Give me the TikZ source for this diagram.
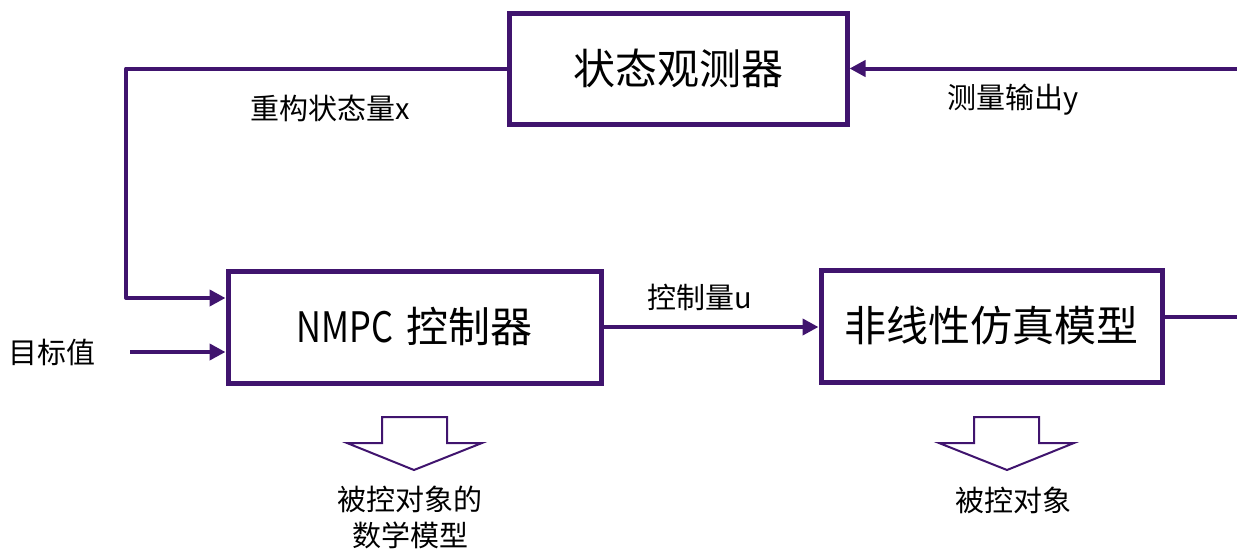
\documentclass[tikz,border=0pt]{standalone}
\usepackage{graphicx}
\usepackage{fontspec}
\newfontfamily\cjk{Noto Sans CJK SC}
\usetikzlibrary{arrows.meta}
\definecolor{pur}{RGB}{64,20,110}
\tikzset{
  blk/.style={draw=pur, line width=5pt, fill=white, inner sep=0pt, font=\cjk\fontsize{42}{50}\selectfont},
  conn/.style={draw=pur, line width=4pt, line join=round},
  arr/.style={conn, -{Triangle[length=16pt,width=16pt]}},
  lbl/.style={inner sep=0pt, font=\cjk\fontsize{29}{36}\selectfont},
  hollow/.style={draw=pur, line width=2pt, line join=miter, fill=white}
}
\begin{document}
\begin{tikzpicture}[x=1pt,y=-1pt]
\useasboundingbox (0,0) rectangle (1237,549);
\node[blk, minimum width=338pt, minimum height=111pt] (obs) at (678,68.5) {状态观测器};
\node[blk, minimum width=373pt, minimum height=112pt] (nmpc) at (414.5,327) {\scalebox{0.82}[1]{NMPC}\hspace{0.3em}控制器};
\node[blk, minimum width=341pt, minimum height=112pt] (sim) at (991.5,326) {非线性仿真模型};
\coordinate (fb) at (126,298);
\coordinate (tgt) at (130,352);
\coordinate (outR) at (1237,317);
\coordinate (mR) at (1237,68.5);
\draw[arr] (obs.west) -| (fb) -- (fb -| nmpc.west);
\draw[arr] (tgt) -- (tgt -| nmpc.west);
\draw[arr] (nmpc.east) -- (nmpc.east -| sim.west);
\draw[conn] (sim.east |- outR) -- (outR);
\draw[arr] (mR) -- (mR -| obs.east);
\node[lbl] (lx) at (330,108) {重构状态量x};
\node[lbl] (ly) at (1013,100) {测量输出y};
\node[lbl] (lu) at (700,297) {控制量u};
\node[lbl] (lt) at (52,352) {目标值};
\draw[hollow] (382,417) -- (447,417) -- (447,443) -- (482,443) -- (414,470) -- (347,443) -- (382,443) -- cycle;
\draw[hollow] (974,417) -- (1039,417) -- (1039,443) -- (1074,443) -- (1007,470) -- (939,443) -- (974,443) -- cycle;
\node[lbl, align=center] (m1) at (410,517) {被控对象的\\数学模型};
\node[lbl] (m2) at (1013,500) {被控对象};
\end{tikzpicture}
\end{document}
